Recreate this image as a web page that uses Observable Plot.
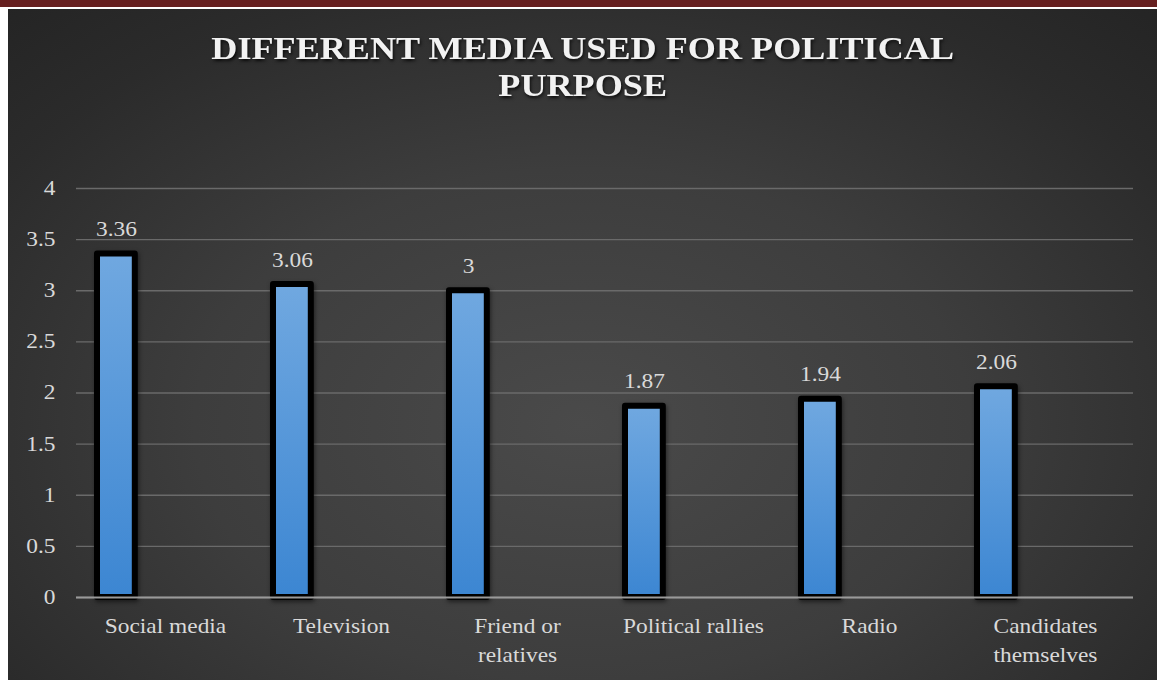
<!DOCTYPE html>
<html>
<head>
<meta charset="utf-8">
<script src="https://cdn.jsdelivr.net/npm/d3@7"></script>
<script src="https://cdn.jsdelivr.net/npm/@observablehq/plot@0.6"></script>
<style>
  html, body { margin: 0; padding: 0; background: #ffffff; }
  body { width: 1157px; height: 680px; position: relative; overflow: hidden; }
  #topbar { position: absolute; left: 0; top: 0; width: 1157px; height: 7px; background: #661f1f; }
  #chart {
    position: absolute; left: 8px; top: 9px; width: 1149px; height: 671px;
    background: radial-gradient(ellipse 75% 85% at 50% 62%, #4a4a4a 0%, #3d3d3d 45%, #2b2b2b 80%, #242424 100%);
  }
  #title {
    height: 130px; box-sizing: border-box; padding-top: 21px;
    text-align: center; color: #f2f2f2;
    font-family: 'Liberation Serif', 'Times New Roman', serif; font-weight: bold;
    font-size: 32px; line-height: 37px;
    text-shadow: 1px 2px 3px rgba(0,0,0,0.8);
  }
  #title span { display: inline-block; transform: scaleX(1.13); transform-origin: 50% 50%; }
</style>
</head>
<body>
<div id="topbar"></div>
<div id="chart"><div id="title"><span>DIFFERENT MEDIA USED FOR POLITICAL</span><br><span>PURPOSE</span></div></div>
<script>
const categories = ["Social media", "Television", "Friend or relatives", "Political rallies", "Radio", "Candidates themselves"];
const tickLabels = ["Social media", "Television", "Friend or\nrelatives", "Political rallies", "Radio", "Candidates\nthemselves"];
const values = [3.36, 3.06, 3, 1.87, 1.94, 2.06];
const valueLabels = ["3.36", "3.06", "3", "1.87", "1.94", "2.06"];
const yTicks = [0, 0.5, 1, 1.5, 2, 2.5, 3, 3.5, 4];

const data = categories.map((c, i) => ({category: c, value: values[i], label: valueLabels[i]}));
const tickMap = new Map(categories.map((c, i) => [c, tickLabels[i]]));

const plot = Plot.plot({
  width: 1149,
  height: 541,
  marginLeft: 68,
  marginRight: 24,
  marginTop: 49,
  marginBottom: 83,
  style: {background: "transparent", color: "#d9d9d9", fontSize: "20px", fontFamily: "'Liberation Serif', 'Times New Roman', serif", overflow: "visible"},
  x: {domain: categories, padding: 0, label: null},
  y: {domain: [0, 4], ticks: yTicks, label: null},
  marks: [
    Plot.gridY(yTicks, {stroke: "#6a6a6a", strokeOpacity: 1, strokeWidth: 1.3}),
    Plot.barY(data, {
      x: "category", y: "value",
      fill: "url(#barGrad)", stroke: "#000000", strokeWidth: 6, strokeLinejoin: "round",
      insetLeft: 20, insetRight: 118.2
    }),
    Plot.ruleY([0], {stroke: "#9a9a9a", strokeWidth: 2}),
    Plot.text(data, {x: "category", y: "value", text: "label", dx: -49, dy: -18, fill: "#d9d9d9", fontSize: 20, lineAnchor: "bottom"}),
    Plot.axisY(yTicks, {tickSize: 0, tickPadding: 21, fontSize: 20, fill: "#d9d9d9", label: null, tickFormat: d => String(d)}),
    Plot.axisX({tickSize: 0, tickPadding: 15, fontSize: 20, fill: "#d9d9d9", label: null, lineHeight: 1.45, tickFormat: d => tickMap.get(d)})
  ]
});

const defs = d3.select(plot).insert("defs", ":first-child");
const g = defs.append("linearGradient").attr("id", "barGrad").attr("x1", 0).attr("y1", 0).attr("x2", 0).attr("y2", 1);
g.append("stop").attr("offset", "0%").attr("stop-color", "#70a8e0");
g.append("stop").attr("offset", "100%").attr("stop-color", "#3c86d2");
const svg = d3.select(plot);
// widen glyphs horizontally about each text's own anchor x
svg.selectAll("text").each(function() {
  const el = d3.select(this);
  let tx = parseFloat(el.attr("x"));
  if (!isFinite(tx)) tx = 0;
  const prev = el.attr("transform") || "";
  el.attr("transform", `${prev} translate(${tx},0) scale(1.17,1) translate(${-tx},0)`.trim())
    .style("font-family", "'Liberation Serif', 'Times New Roman', serif");
});
svg.selectAll("rect").style("filter", "drop-shadow(1px 2px 2px rgba(0,0,0,0.5))");

document.getElementById("chart").appendChild(plot);
</script>
</body>
</html>
